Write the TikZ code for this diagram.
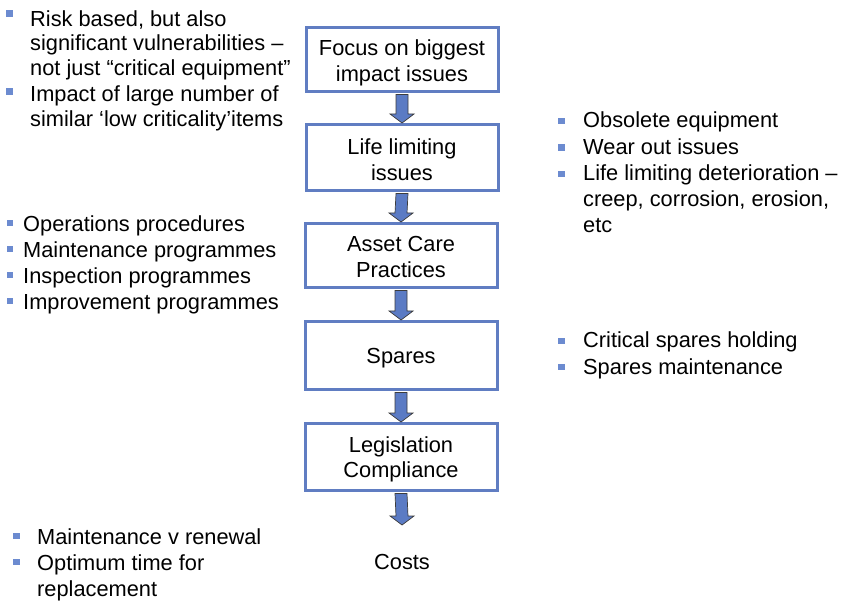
\documentclass[tikz,border=0pt]{standalone}
\usepackage{fontspec}
\setmainfont{Liberation Sans}
\definecolor{boxblue}{RGB}{96,125,194}
\definecolor{arrowblue}{RGB}{91,123,196}
\definecolor{arrowedge}{RGB}{60,60,60}
\definecolor{bulletblue}{RGB}{108,139,208}
\newcommand{\bodyfont}{\fontsize{21.8}{25.5}\selectfont}
\tikzset{
  stepbox/.style={draw=boxblue, line width=3pt, fill=white, minimum width=192pt,
    inner sep=0pt},
  steptext/.style={align=center, inner sep=0pt, font=\bodyfont},
  blockarrow/.style={fill=arrowblue, draw=arrowedge, line width=0.7pt, line join=miter},
  txt/.style={anchor=base west, inner sep=0pt, font=\bodyfont},
  bul/.style={fill=bulletblue, minimum size=6.5pt, inner sep=0pt, draw=none},
}
% block arrow from the bottom of one box to the top of the next
\newcommand{\flowarrow}[2]{%
  \draw[blockarrow] ([xshift=-6pt,yshift=-1.5pt]#1.south)
    -- ([xshift=-6pt,yshift=9pt]#2)
    -- ([xshift=-12pt,yshift=9pt]#2)
    -- (#2)
    -- ([xshift=12pt,yshift=9pt]#2)
    -- ([xshift=6pt,yshift=9pt]#2)
    -- ([xshift=6pt,yshift=-1.5pt]#1.south) -- cycle;}
\begin{document}
\begin{tikzpicture}[x=1pt,y=-1pt]
\useasboundingbox (0,0) rectangle (843,601);

% central chain of boxes
\node[stepbox, minimum height=64pt] (b1) at (402,59.5) {};
\node[stepbox, minimum height=66pt] (b2) at (402,157.5) {};
\node[stepbox, minimum height=64pt] (b3) at (401,255.5) {};
\node[stepbox, minimum height=68pt] (b4) at (401,355.5) {};
\node[stepbox, minimum height=67pt] (b5) at (401,457) {};
\node[steptext, yshift=-3.5pt] (t1) at (b1) {Focus on biggest\\impact issues};
\node[steptext, yshift=-2pt] (t2) at (b2) {Life limiting\\issues};
\node[steptext, yshift=-1.5pt] (t3) at (b3) {Asset Care\\Practices};
\node[steptext, yshift=-2.5pt] (t4) at (b4) {Spares};
\node[steptext, yshift=-2.5pt] (t5) at (b5) {Legislation\\Compliance};
\coordinate (end) at (402,525);
\node[anchor=base, inner sep=0pt, font=\bodyfont] (costs) at (402,569) {Costs};

\flowarrow{b1}{b2.north}
\flowarrow{b2}{b3.north}
\flowarrow{b3}{b4.north}
\flowarrow{b4}{b5.north}
\flowarrow{b5}{end}

% notes beside "Focus on biggest impact issues"
\node[bul] (fa) at (9.5,13.5) {};
\node[txt] (f1) at (30,27) {Risk based, but also};
\node[txt] (f2) at (30,51) {significant vulnerabilities –};
\node[txt] (f3) at (30,76) {not just “critical equipment”};
\node[bul] (fb) at (9.5,91.5) {};
\node[txt] (f4) at (30,102) {Impact of large number of};
\node[txt] (f5) at (30,127) {similar ‘low criticality’items};

% notes beside "Life limiting issues"
\node[bul] (la) at (561.5,121) {};
\node[txt] (l1) at (583,128) {Obsolete equipment};
\node[bul] (lb) at (561.5,147.5) {};
\node[txt] (l2) at (583,154.5) {Wear out issues};
\node[bul] (lc) at (561.5,174) {};
\node[txt] (l3) at (583,181) {Life limiting deterioration –};
\node[txt] (l4) at (583,207) {creep, corrosion, erosion,};
\node[txt] (l5) at (583,233) {etc};

% notes beside "Asset Care Practices"
\node[bul] (aa) at (10,223) {};
\node[txt] (a1) at (23,232) {Operations procedures};
\node[bul] (ab) at (10,249) {};
\node[txt] (a2) at (23,258) {Maintenance programmes};
\node[bul] (ac) at (10,275) {};
\node[txt] (a3) at (23,284) {Inspection programmes};
\node[bul] (ad) at (10,301) {};
\node[txt] (a4) at (23,310) {Improvement programmes};

% notes beside "Spares"
\node[bul] (sa) at (561.5,341) {};
\node[txt] (s1) at (583,348) {Critical spares holding};
\node[bul] (sb) at (561.5,367) {};
\node[txt] (s2) at (583,374) {Spares maintenance};

% notes beside "Costs"
\node[bul] (ca) at (16.5,536) {};
\node[txt] (c1) at (37,544) {Maintenance v renewal};
\node[bul] (cb) at (16.5,562) {};
\node[txt] (c2) at (37,570) {Optimum time for};
\node[txt] (c3) at (37,596) {replacement};
\end{tikzpicture}
\end{document}
